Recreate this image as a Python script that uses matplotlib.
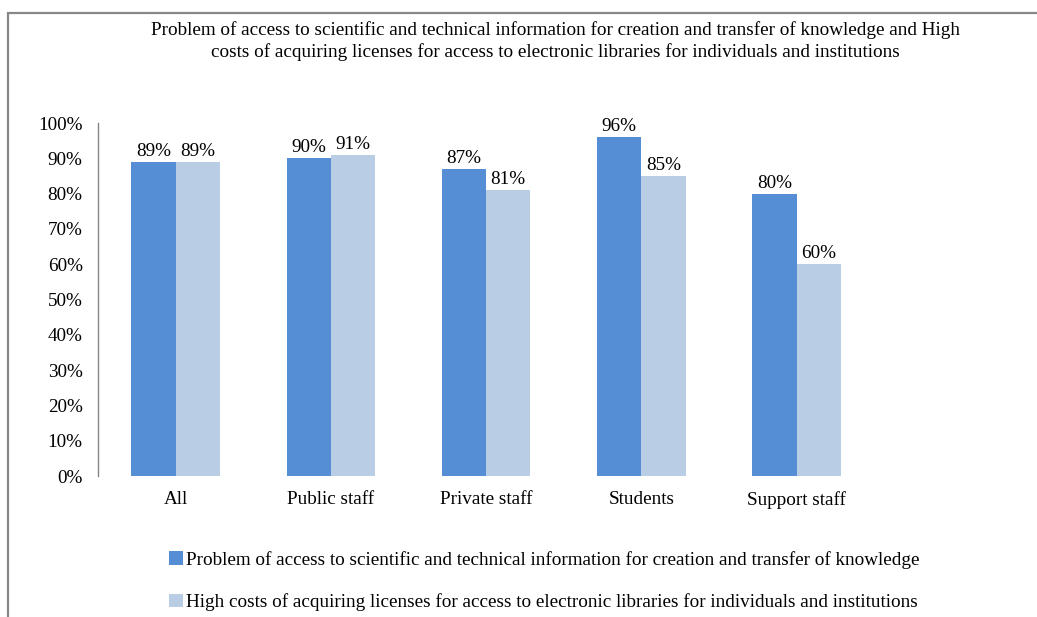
import matplotlib
matplotlib.use("Agg")
import matplotlib.pyplot as plt
from matplotlib.patches import Rectangle
import numpy as np

categories = ["All", "Public staff", "Private staff", "Students", "Support staff"]
access_problem = [89, 90, 87, 96, 80]
license_costs = [89, 91, 81, 85, 60]
series_names = [
    "Problem of access to scientific and technical information for creation and transfer of knowledge",
    "High costs of acquiring licenses for access to electronic libraries for individuals and institutions",
]
title = ("Problem of access to scientific and technical information for creation and transfer of knowledge and High\n"
         "costs of acquiring licenses for access to electronic libraries for individuals and institutions")
yticks = list(range(0, 101, 10))

plt.rcParams["font.family"] = ["Liberation Serif", "DejaVu Serif"]
DARK, LIGHT = "#558ED5", "#B9CDE5"
FS = 13.8

fig = plt.figure(figsize=(10.37, 6.17), dpi=100)
ax = fig.add_axes([0.0945, 0.2285, 0.7485, 0.572])

x = np.arange(len(categories))
w = 0.285
b1 = ax.bar(x - w / 2, access_problem, w, color=DARK, label=series_names[0])
b2 = ax.bar(x + w / 2, license_costs, w, color=LIGHT, label=series_names[1])
for bars, vals in ((b1, access_problem), (b2, license_costs)):
    for r, v in zip(bars, vals):
        ax.text(r.get_x() + r.get_width() / 2, v + 0.6, f"{v}%", ha="center", va="bottom", fontsize=FS)

ax.set_xlim(-0.5, len(categories) - 0.5)
ax.set_ylim(0, 100)
ax.set_yticks(yticks)
ax.set_yticklabels([f"{t}%" for t in yticks], fontsize=FS)
ax.set_xticks(x)
ax.set_xticklabels(categories, fontsize=FS)
ax.tick_params(axis="y", length=0, pad=11)
ax.tick_params(axis="x", length=0, pad=11)
for s in ("top", "right", "bottom"):
    ax.spines[s].set_visible(False)
ax.spines["left"].set_color("#868686")
ax.spines["left"].set_linewidth(1)

fig.text(0.536, 0.966, title, ha="center", va="top", fontsize=FS, linespacing=1.3)

fig.legend(handles=[b1, b2], loc="upper left", bbox_to_anchor=(0.156, 0.12),
           frameon=False, fontsize=FS, handlelength=0.7, handleheight=0.7,
           handletextpad=0.15, labelspacing=1.3, borderaxespad=0)

# outer chart border (left and top visible)
fig.patches.append(Rectangle((8 / 1037, -0.1), 1.2, 1.1 - 13.5 / 617, transform=fig.transFigure,
                             fill=False, edgecolor="#888888", linewidth=1.6))

fig.savefig("out.png", dpi=100)
